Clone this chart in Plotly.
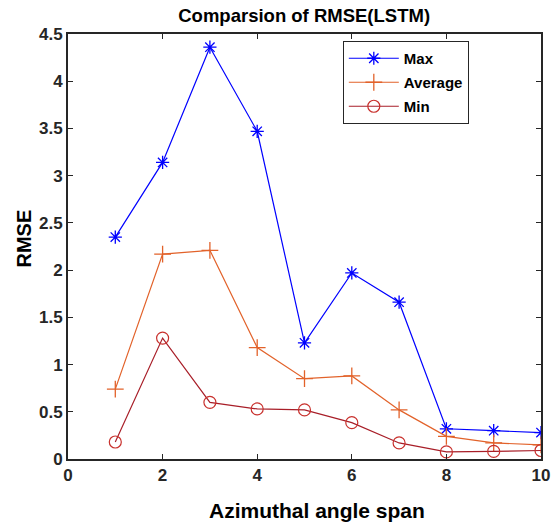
import plotly.graph_objects as go

x_vals = [1, 2, 3, 4, 5, 6, 7, 8, 9, 10]
max_vals = [2.35, 3.14, 4.36, 3.47, 1.23, 1.97, 1.66, 0.32, 0.30, 0.28]
avg_vals = [0.74, 2.17, 2.21, 1.18, 0.85, 0.88, 0.52, 0.24, 0.17, 0.15]
min_vals = [0.18, 1.28, 0.60, 0.53, 0.52, 0.385, 0.17, 0.075, 0.08, 0.09]

x_ticks = [0, 2, 4, 6, 8, 10]
y_ticks = [0, 0.5, 1, 1.5, 2, 2.5, 3, 3.5, 4, 4.5]
y_tick_text = ["0", "0.5", "1", "1.5", "2", "2.5", "3", "3.5", "4", "4.5"]

FONT = "Liberation Sans"

fig = go.Figure()
fig.add_trace(go.Scatter(
    x=x_vals, y=max_vals, name="Max", mode="lines+markers", legendgroup="a",
    line=dict(color="#0000FF", width=1.2),
    marker=dict(symbol="asterisk-open", size=11, color="#0000FF", line=dict(color="#0000FF", width=1.3)),
))
fig.add_trace(go.Scatter(
    x=x_vals, y=avg_vals, name="Average", mode="lines+markers", legendgroup="b",
    line=dict(color="#E2622A", width=1.2),
    marker=dict(symbol="cross-thin-open", size=12, color="#E2622A", line=dict(color="#E2622A", width=1.3)),
))
fig.add_trace(go.Scatter(
    x=x_vals, y=min_vals, name="Min", mode="lines+markers", legendgroup="c",
    line=dict(color="#A81E28", width=1.2),
    marker=dict(symbol="circle-open", size=12, color="#C8302C", line=dict(color="#C8302C", width=1.2)),
))

axis_common = dict(
    showgrid=False, zeroline=False, showline=True, linecolor="#262626", linewidth=2,
    mirror="ticks", ticks="inside", ticklen=5, tickwidth=1, tickcolor="#262626",
    tickfont=dict(family=FONT, size=17, color="#262626", weight="bold"),
    automargin=False,
)

fig.update_layout(
    width=553, height=525,
    margin=dict(l=68, r=12, t=34, b=66),
    paper_bgcolor="white", plot_bgcolor="white",
    title=dict(text="Comparsion of RMSE(LSTM)", x=0.55, xanchor="center", y=0.97, yanchor="middle",
               font=dict(family=FONT, size=18.5, color="black", weight="bold"), automargin=False),
    xaxis=dict(range=[0, 10], tickvals=x_ticks, **axis_common),
    yaxis=dict(range=[0, 4.5], tickvals=y_ticks, ticktext=y_tick_text, **axis_common),
    legend=dict(x=0.581, y=0.9835, xanchor="left", yanchor="top",
                bgcolor="white", bordercolor="#262626", borderwidth=1,
                font=dict(family=FONT, size=15, color="black", weight="bold"),
                itemwidth=50, tracegroupgap=1.5),
    annotations=[
        dict(text="Azimuthal angle span", xref="paper", yref="paper",
             x=0.527, y=-0.122, xanchor="center", yanchor="middle", showarrow=False,
             font=dict(family=FONT, size=21, color="black", weight="bold")),
        dict(text="RMSE", xref="paper", yref="paper", textangle=-90,
             x=-0.092, y=0.52, xanchor="center", yanchor="middle", showarrow=False,
             font=dict(family=FONT, size=20, color="black", weight="bold")),
    ],
    showlegend=True,
)

fig.write_html("out.html", config={"displayModeBar": False},
               post_script="document.body.style.margin='0';document.body.style.overflow='hidden';")
